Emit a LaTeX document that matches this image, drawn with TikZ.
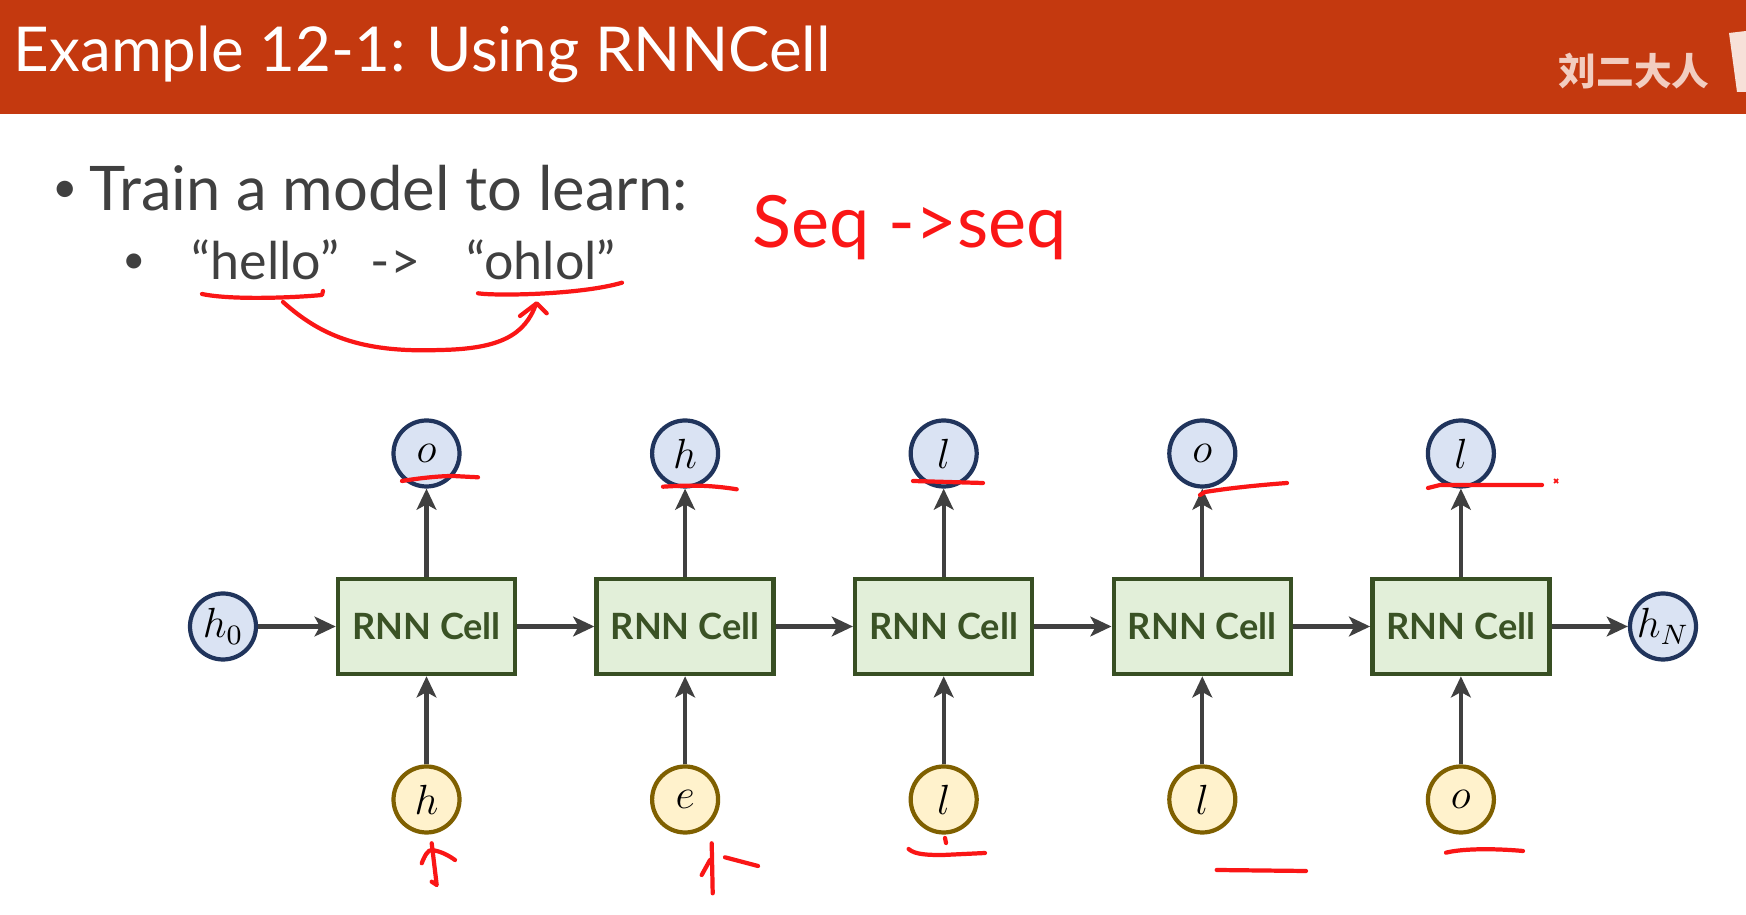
\documentclass[tikz,border=0pt]{standalone}
\usepackage{fontspec}
\setmainfont{Lato}
\newfontfamily\cjk{Noto Sans CJK SC}
\usetikzlibrary{arrows.meta}
\definecolor{titlered}{RGB}{196,57,15}
\definecolor{marktext}{RGB}{242,205,192}
\definecolor{bodygray}{RGB}{64,64,64}
\definecolor{cellfill}{RGB}{226,239,217}
\definecolor{cellborder}{RGB}{56,79,35}
\definecolor{celltext}{RGB}{58,82,37}
\definecolor{hidfill}{RGB}{218,227,243}
\definecolor{hidborder}{RGB}{32,52,92}
\definecolor{infill}{RGB}{255,242,204}
\definecolor{inborder}{RGB}{127,96,0}
\definecolor{linkgray}{RGB}{64,64,64}
\definecolor{inkred}{RGB}{250,22,22}

\begin{document}
\begin{tikzpicture}[>={Stealth[length=6pt,width=5.6pt,inset=1.5pt]},
  cell/.style={draw=cellborder, fill=cellfill, line width=1.3pt, minimum width=1.77cm,
    minimum height=0.95cm, inner sep=0pt, text=celltext, font=\fontsize{10.3}{12}\selectfont\bfseries},
  hidnode/.style={circle, draw=hidborder, fill=hidfill, line width=1.2pt, minimum size=0.66cm,
    inner sep=0pt, font=\fontsize{12}{14}\selectfont},
  innode/.style={hidnode, draw=inborder, fill=infill},
  link/.style={->, draw=linkgray, line width=1.15pt},
  ink/.style={draw=inkred, line width=1.2pt, line cap=round, line join=round},
  words/.style={anchor=base west, inner sep=0pt, text=bodygray}]

\fill[white] (0,0) rectangle (17.46,9.15);
\useasboundingbox (0,0) rectangle (17.46,9.15);

%Title
\fill[titlered] (0,8.01) rectangle (17.46,9.15);
\node[anchor=base west, inner sep=0pt, text=white, font=\fontsize{17.6}{20}\selectfont] (title) at (0.13,8.43) {Example 12-1: Using RNNCell};
\node[text=marktext, font=\cjk\bfseries\fontsize{10.7}{12}\selectfont] (mark) at (16.34,8.44) {刘二大人};
\fill[marktext!60!white] (17.29,8.82) -- (17.46,8.84) -- (17.46,8.23) -- (17.37,8.23) -- cycle;

%Text
\node[text=bodygray, inner sep=0pt, font=\fontsize{12.5}{15}\selectfont] (bul1) at (0.655,7.235) {\textbullet};
\node[words, font=\fontsize{17.5}{21}\selectfont] (train) at (0.89,7.04) {Train a model to learn:};
\node[text=bodygray, inner sep=0pt, font=\fontsize{11.5}{14}\selectfont] (bul2) at (1.346,6.51) {\textbullet};
\node[words, font=\fontsize{14.8}{18}\selectfont] (hello) at (1.91,6.35) {“hello”};
\node[words, font=\fontsize{14.8}{18}\selectfont] (maps) at (3.70,6.35) {->};
\node[words, font=\fontsize{14.8}{18}\selectfont] (ohlol) at (4.66,6.35) {“ohlol”};
\node[anchor=base west, inner sep=0pt, text=inkred, font=\fontsize{20.5}{24}\selectfont] (seq) at (7.52,6.67) {Seq ->seq};

%Cells
\node[cell] (c1) at (4.265,2.885) {RNN Cell};
\node[cell] (c2) at (6.851,2.885) {RNN Cell};
\node[cell] (c3) at (9.437,2.885) {RNN Cell};
\node[cell] (c4) at (12.023,2.885) {RNN Cell};
\node[cell] (c5) at (14.609,2.885) {RNN Cell};

\node[hidnode] (h0) at (2.23,2.885) {$h_0$};
\node[hidnode] (hN) at (16.63,2.885) {$h_N$};

\node[hidnode] (y1) at (4.265,4.615) {$o$};
\node[hidnode] (y2) at (6.851,4.615) {$h$};
\node[hidnode] (y3) at (9.437,4.615) {$l$};
\node[hidnode] (y4) at (12.023,4.615) {$o$};
\node[hidnode] (y5) at (14.609,4.615) {$l$};

\node[innode] (x1) at (4.265,1.155) {$h$};
\node[innode] (x2) at (6.851,1.155) {$e$};
\node[innode] (x3) at (9.437,1.155) {$l$};
\node[innode] (x4) at (12.023,1.155) {$l$};
\node[innode] (x5) at (14.609,1.155) {$o$};

%Links
\draw[link] (h0) -- (c1);
\draw[link] (c1) -- (c2);
\draw[link] (c2) -- (c3);
\draw[link] (c3) -- (c4);
\draw[link] (c4) -- (c5);
\draw[link] (c5) -- (hN);

\draw[link] (x1) -- (c1);
\draw[link] (x2) -- (c2);
\draw[link] (x3) -- (c3);
\draw[link] (x4) -- (c4);
\draw[link] (x5) -- (c5);

\draw[link] (c1) -- (y1);
\draw[link] (c2) -- (y2);
\draw[link] (c3) -- (y3);
\draw[link] (c4) -- (y4);
\draw[link] (c5) -- (y5);

%Red ink
\draw[ink] (2.02,6.21) .. controls (2.3,6.15) and (2.9,6.17) .. (3.22,6.2) -- (3.23,6.24);
\draw[ink] (4.78,6.217) .. controls (4.95,6.19) and (5.8,6.2) .. (6.22,6.323);
\draw[ink] (2.83,6.13) .. controls (3.2,5.8) and (3.6,5.62) .. (4.4,5.65) .. controls (5.0,5.66) and (5.25,5.8) .. (5.36,6.11);
\draw[ink] (5.20,5.99) -- (5.367,6.117) -- (5.467,6.017);

\draw[ink] (4.02,4.34) .. controls (4.2,4.37) and (4.4,4.39) .. (4.53,4.39) -- (4.78,4.377);
\draw[ink] (6.63,4.283) .. controls (6.9,4.30) and (7.1,4.30) .. (7.367,4.257);
\draw[ink] (9.13,4.34) -- (9.83,4.32);
\draw[ink] (12.00,4.20) -- (12.05,4.23) .. controls (12.3,4.27) and (12.6,4.30) .. (12.87,4.32);
\draw[ink] (14.28,4.27) -- (14.40,4.30) -- (15.42,4.30);
\draw[inkred, line width=0.5pt] (15.54,4.32) -- (15.58,4.36) (15.54,4.36) -- (15.58,4.32);

\draw[ink] (4.217,0.517) .. controls (4.25,0.60) and (4.28,0.65) .. (4.317,0.65) .. controls (4.40,0.64) and (4.48,0.60) .. (4.55,0.55);
\draw[ink] (4.317,0.717) -- (4.367,0.30) -- (4.317,0.333);
\draw[ink] (7.117,0.717) -- (7.127,0.217);
\draw[ink] (7.017,0.40) -- (7.10,0.55);
\draw[ink] (7.25,0.577) -- (7.58,0.49);
\draw[ink] (9.45,0.77) -- (9.46,0.72);
\draw[ink] (9.086,0.66) .. controls (9.15,0.60) and (9.3,0.60) .. (9.43,0.60) -- (9.85,0.62);
\draw[ink] (12.167,0.45) -- (13.06,0.44);
\draw[ink] (14.46,0.623) .. controls (14.6,0.66) and (14.9,0.67) .. (15.23,0.64);

\end{tikzpicture}
\end{document}
